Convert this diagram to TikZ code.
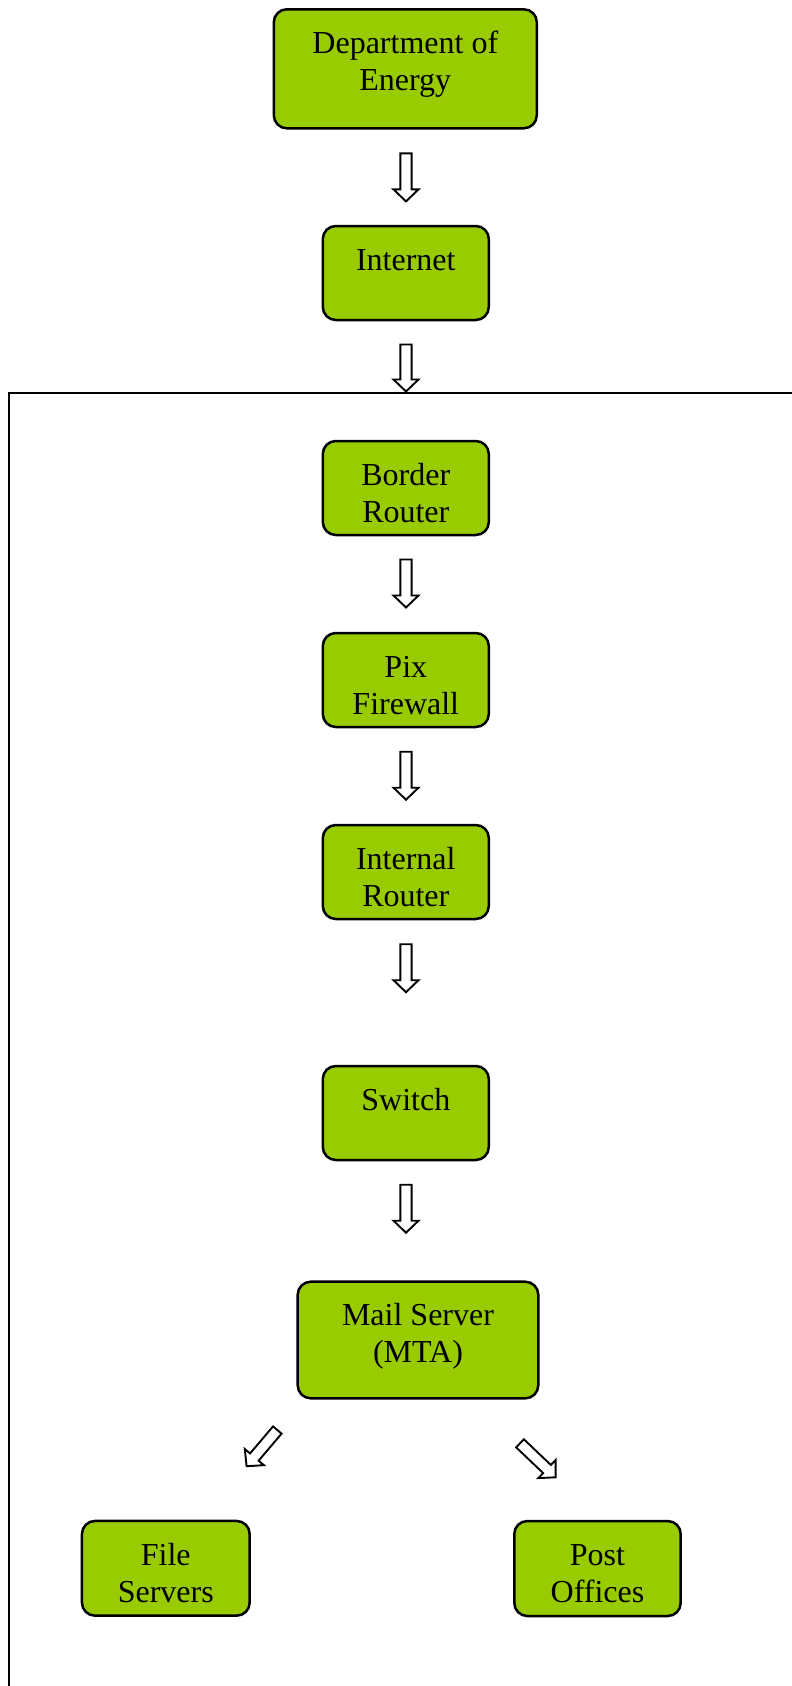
\documentclass[tikz,border=0pt]{standalone}
\usepackage{fontspec}
\setmainfont{Liberation Serif}
\definecolor{boxgreen}{RGB}{153,204,0}
\tikzset{
  box/.style={draw=black, line width=2.5pt, fill=boxgreen, rounded corners=13pt, inner sep=0pt},
  lbl/.style={anchor=base, align=center, inner sep=0pt, font=\fontsize{32}{37}\selectfont},
  frame/.style={draw=black, line width=2.2pt},
  pics/barrow/.style={code={
    \draw[line width=1.9pt, fill=white, line join=miter]
      (0pt,-5.6pt) -- ({(#1-12)*1pt},-5.6pt) -- ({(#1-12)*1pt},-12.5pt) -- ({#1*1pt},0pt)
      -- ({(#1-12)*1pt},12.5pt) -- ({(#1-12)*1pt},5.6pt) -- (0pt,5.6pt) -- cycle;
  }}
}
\begin{document}
\begin{tikzpicture}[x=1pt,y=-1pt]
\useasboundingbox (0,0) rectangle (792,1686);
% outer frame (open to the right and bottom)
\draw[frame] (820,392.7) -- (9.3,392.7) -- (9.3,1720);
% boxes
\node[box, minimum width=263pt, minimum height=119pt] (doe) at (405.3,68.8) {};
\node[box, minimum width=166pt, minimum height=94pt] (inet) at (405.8,273) {};
\node[box, minimum width=166pt, minimum height=94pt] (border) at (405.8,488) {};
\node[box, minimum width=166pt, minimum height=94pt] (pix) at (405.8,680) {};
\node[box, minimum width=166pt, minimum height=94pt] (internal) at (405.8,872) {};
\node[box, minimum width=166pt, minimum height=94pt] (switch) at (405.8,1113) {};
\node[box, minimum width=240.6pt, minimum height=116.6pt] (mail) at (418,1340) {};
\node[box, minimum width=167.7pt, minimum height=94.7pt] (file) at (165.8,1568.3) {};
\node[box, minimum width=166.4pt, minimum height=95pt] (post) at (597.5,1568.5) {};
% labels (base anchor = baseline of the last line)
\node[lbl] (doe-t) at ([yshift=-82.5pt]doe.north) {Department of\\Energy};
\node[lbl] (inet-t) at ([yshift=-46pt]inet.north) {Internet};
\node[lbl] (border-t) at ([yshift=-82.5pt]border.north) {Border\\Router};
\node[lbl] (pix-t) at ([yshift=-82.5pt]pix.north) {Pix\\Firewall};
\node[lbl] (internal-t) at ([yshift=-82.5pt]internal.north) {Internal\\Router};
\node[lbl] (switch-t) at ([yshift=-46pt]switch.north) {Switch};
\node[lbl] (mail-t) at ([yshift=-82.5pt]mail.north) {Mail Server\\(MTA)};
\node[lbl] (file-t) at ([yshift=-82.5pt]file.north) {File\\Servers};
\node[lbl] (post-t) at ([yshift=-82.5pt]post.north) {Post\\Offices};
% block arrows
\pic[rotate=-90] at (406,153.4) {barrow=48};
\pic[rotate=-90] at (406,344.5) {barrow=47};
\pic[rotate=-90] at (406,559.5) {barrow=48};
\pic[rotate=-90] at (406,751.7) {barrow=48};
\pic[rotate=-90] at (406,944.2) {barrow=48};
\pic[rotate=-90] at (406,1184.7) {barrow=48};
\pic[rotate=-130.3] at (277.3,1430) {barrow=47.5};
\pic[rotate=-43.6] at (520,1443.3) {barrow=49.3};
\end{tikzpicture}
\end{document}
